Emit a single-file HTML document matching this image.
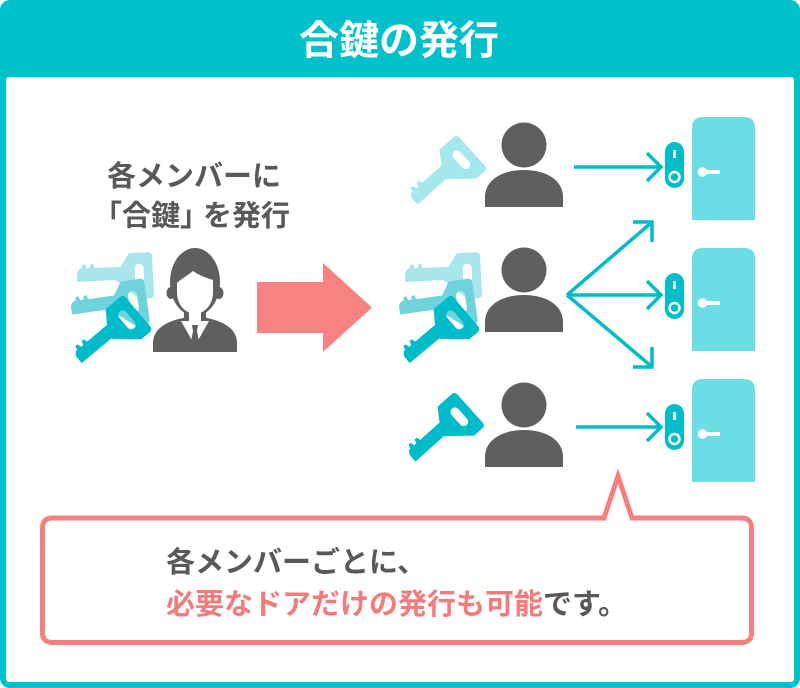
<!DOCTYPE html>
<html lang="ja"><head><meta charset="utf-8"><style>
html,body{margin:0;padding:0;background:#fff;}
svg{display:block;}
text{font-family:"Liberation Sans","Noto Sans CJK JP",sans-serif;font-weight:700;}
</style></head><body>
<svg width="800" height="688" viewBox="0 0 800 688" xmlns="http://www.w3.org/2000/svg">
<defs>
<path id="key" fill-rule="evenodd" d="M -23,-23 L -4,-23 Q 0,-23 0,-19 L 0,19 Q 0,23 -4,23 L -15,23 L -38,3 L -76,3 L -76,-6 L -73,-10 L -71,-10 L -70,-14 L -67,-14 L -66,-10 L -63,-10 L -62,-14 L -59,-14 L -58,-10 L -32,-10 Z M -13.5,-12 A 4.5,4.5 0 0 1 -9,-7.5 L -9,5.5 A 4.5,4.5 0 0 1 -13.5,10 A 4.5,4.5 0 0 1 -18,5.5 L -18,-7.5 A 4.5,4.5 0 0 1 -13.5,-12 Z"/>
<g id="lock">
<rect x="665" y="0" width="19" height="46" rx="9.5" fill="#00bdca"/>
<rect x="673.2" y="8" width="2.6" height="8" fill="#fff"/>
<circle cx="674.5" cy="35" r="5" fill="none" stroke="#fff" stroke-width="2.4"/>
</g>
<g id="door">
<path d="M692,0 L692,103 L755,103 L755,11 Q755,0 744,0 L703,0 Q692,0 692,11 Z" fill="#6cdde4"/>
<circle cx="702.5" cy="55" r="4.8" fill="#fff"/>
<rect x="702" y="53" width="18" height="4" rx="1" fill="#fff"/>
</g>
<g id="person">
<path d="M485,62 L485,52 C485,35 502,25 524,25 C546,25 563,35 563,52 L563,62 Z" fill="#5f5f5f"/>
<circle cx="524" cy="0" r="25" fill="#fff"/>
<circle cx="524" cy="0" r="22.5" fill="#5f5f5f"/>
</g>
</defs>

<!-- frame -->
<rect x="0" y="0" width="800" height="688" rx="10" fill="#00c0cc"/>
<rect x="6" y="77" width="788" height="605" rx="3" fill="#fff"/>
<text x="399" y="54" font-size="40" fill="#fff" text-anchor="middle">合鍵の発行</text>

<!-- left text -->
<text x="194" y="186" font-size="29" fill="#595959" text-anchor="middle">各メンバーに</text>
<text x="93 122 151 180 203 232 261" y="225.5" font-size="29" fill="#595959">「合鍵」を発行</text>

<!-- left keys -->
<use href="#key" fill="#a8e6ec" transform="translate(153,275) rotate(-3)"/>
<use href="#key" fill="#6fd3dc" transform="translate(147,301) rotate(-8)"/>
<use href="#key" fill="#00bccb" transform="translate(138,312) rotate(-40)"/>

<!-- businessman -->
<path d="M153,352 L153,343 C153,328 168,321 183,318 L207,318 C222,321 237,328 237,343 L237,352 Z" fill="#5f5f5f"/>
<ellipse cx="195" cy="282" rx="25" ry="34" fill="#5f5f5f"/>
<rect x="184" y="300" width="22" height="22" fill="#5f5f5f"/>
<ellipse cx="171" cy="293" rx="4.5" ry="6" fill="#5f5f5f"/>
<ellipse cx="219" cy="293" rx="4.5" ry="6" fill="#5f5f5f"/>
<path d="M177,283 C181,279 187,276 193,271 C200,276 207,278 213,280 L213,292 C213,305 205,313 195,314 C185,313 177,305 177,292 Z" fill="#fff"/>
<rect x="189" y="310" width="12" height="12" fill="#fff"/>
<polygon points="181,321 209,321 196,344 194,344" fill="#fff"/>
<polygon points="192,325 198,325 197,331 199,342 195,347 191,342 193,331" fill="#5f5f5f"/>

<!-- red arrow -->
<polygon points="257,282 323,282 323,263 372,307.5 323,352 323,333 257,333" fill="#f88181"/>

<!-- right keys -->
<use href="#key" fill="#a4e7ed" transform="translate(472,151.5) rotate(-42)"/>
<use href="#key" fill="#a8e6ec" transform="translate(481,275) rotate(-3)"/>
<use href="#key" fill="#6fd3dc" transform="translate(475,301) rotate(-8)"/>
<use href="#key" fill="#00bccb" transform="translate(466,312) rotate(-40)"/>
<use href="#key" fill="#00bccb" transform="translate(470,408.5) rotate(-42)"/>

<!-- persons -->
<use href="#person" transform="translate(0,145)"/>
<use href="#person" transform="translate(0,270)"/>
<use href="#person" transform="translate(0,405)"/>

<!-- arrows -->
<g fill="none" stroke="#00bcc9" stroke-width="3.5" stroke-linejoin="miter">
<line x1="574" y1="167" x2="660" y2="167"/>
<polyline points="647,153 661,167 647,181"/>
<line x1="567" y1="295" x2="660" y2="295"/>
<polyline points="647,281 661,295 647,309"/>
<line x1="567" y1="295" x2="651" y2="223"/>
<polyline points="633,222 652,222 652,242"/>
<line x1="567" y1="295" x2="651" y2="366"/>
<polyline points="633,367 652,367 652,347"/>
<line x1="576" y1="427" x2="660" y2="427"/>
<polyline points="647,413 661,427 647,441"/>
</g>

<!-- locks and doors -->
<use href="#lock" transform="translate(0,142)"/>
<use href="#lock" transform="translate(0,273)"/>
<use href="#lock" transform="translate(0,404)"/>
<use href="#door" transform="translate(0,117)"/>
<use href="#door" transform="translate(0,248)"/>
<use href="#door" transform="translate(0,379)"/>

<!-- bubble -->
<path d="M52.5,518 L604,518 L618,476 L632,518 L741.5,518 Q751.5,518 751.5,528 L751.5,632.5 Q751.5,642.5 741.5,642.5 L52.5,642.5 Q42.5,642.5 42.5,632.5 L42.5,528 Q42.5,518 52.5,518 Z" fill="#fff" stroke="#f58080" stroke-width="5" stroke-linejoin="miter"/>
<text x="166" y="572" font-size="29" fill="#595959">各メンバーごとに、</text>
<text x="166" y="614" font-size="29" fill="#f37b7b">必要なドアだけの発行も可能<tspan fill="#595959">です。</tspan></text>
</svg>
</body></html>
